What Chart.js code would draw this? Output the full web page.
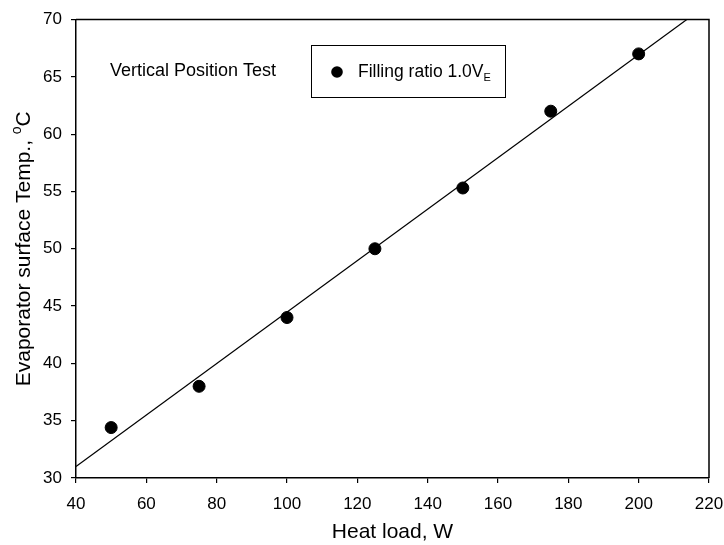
<!DOCTYPE html>
<html>
<head>
<meta charset="utf-8">
<script src="https://cdn.jsdelivr.net/npm/chart.js@4"></script>
<style>
  html, body { margin: 0; padding: 0; background: #fff; }
  #wrap { width: 724px; height: 545px; }
</style>
</head>
<body>
<div id="wrap"><canvas id="chart" width="724" height="545"></canvas></div>
<script>
// measured points
const heatLoad = [50, 75, 100, 125, 150, 175, 200];
const evapTemp = [34.4, 38.0, 44.0, 50.0, 55.3, 62.0, 67.0];

// fitted line, end points
const fitX = [40, 213.7];
const fitY = [31.0, 70.0];

const xTicks = [40, 60, 80, 100, 120, 140, 160, 180, 200, 220];
const yTicks = [30, 35, 40, 45, 50, 55, 60, 65, 70];

const FONT = '"Liberation Sans", Arial, sans-serif';

// frame, axis titles, note and legend box
const extras = {
    id: 'extras',
    afterDraw(chart) {
        const ctx = chart.ctx;
        const a = chart.chartArea;
        ctx.save();
        ctx.strokeStyle = '#000';
        ctx.lineWidth = 1.5;
        ctx.beginPath();
        ctx.moveTo(a.left, a.top);
        ctx.lineTo(a.right, a.top);
        ctx.lineTo(a.right, a.bottom);
        ctx.stroke();

        ctx.fillStyle = '#000';
        ctx.textBaseline = 'alphabetic';
        // x title
        ctx.font = '21px ' + FONT;
        ctx.textAlign = 'center';
        ctx.fillText('Heat load, W', (a.left + a.right) / 2, 538);

        // y title with superscript o
        const main = 'Evaporator surface Temp., ';
        ctx.font = '21px ' + FONT;
        const w1 = ctx.measureText(main).width;
        const wC = ctx.measureText('C').width;
        ctx.font = '14px ' + FONT;
        const wo = ctx.measureText('o').width;
        const total = w1 + wo + wC;
        ctx.translate(30, (a.top + a.bottom) / 2);
        ctx.rotate(-Math.PI / 2);
        ctx.textAlign = 'left';
        let x0 = -total / 2;
        ctx.font = '21px ' + FONT;
        ctx.fillText(main, x0, 0);
        ctx.font = '14px ' + FONT;
        ctx.fillText('o', x0 + w1, -9);
        ctx.font = '21px ' + FONT;
        ctx.fillText('C', x0 + w1 + wo, 0);
        ctx.setTransform(1, 0, 0, 1, 0, 0);

        // note
        ctx.font = '18px ' + FONT;
        ctx.textAlign = 'left';
        ctx.fillText('Vertical Position Test', 110, 76);

        // legend
        ctx.lineWidth = 1;
        ctx.strokeRect(311.5, 45.5, 194, 52);
        ctx.beginPath();
        ctx.arc(337, 72, 5.8, 0, Math.PI * 2);
        ctx.fill();
        ctx.font = '17.5px ' + FONT;
        const lt = 'Filling ratio 1.0V';
        ctx.fillText(lt, 358, 77);
        const lw = ctx.measureText(lt).width;
        ctx.font = '11px ' + FONT;
        ctx.fillText('E', 358 + lw, 81);
        ctx.restore();
    }
};

new Chart(document.getElementById('chart'), {
    type: 'scatter',
    data: {
        datasets: [
            {
                label: 'Filling ratio 1.0VE',
                data: heatLoad.map((x, i) => ({ x: x, y: evapTemp[i] })),
                backgroundColor: '#000',
                borderColor: '#000',
                pointRadius: 6,
                pointHoverRadius: 6
            },
            {
                type: 'line',
                label: 'fit',
                data: fitX.map((x, i) => ({ x: x, y: fitY[i] })),
                borderColor: '#000',
                borderWidth: 1.2,
                pointRadius: 0,
                fill: false
            }
        ]
    },
    options: {
        responsive: false,
        animation: false,
        layout: { padding: { top: 19.5, right: 15, left: 0, bottom: 0 } },
        plugins: { legend: { display: false }, tooltip: { enabled: false } },
        scales: {
            x: {
                type: 'linear',
                min: 40, max: 220,
                afterBuildTicks: s => { s.ticks = xTicks.map(v => ({ value: v })); },
                afterFit: s => { s.height = 67; s.paddingLeft = 0; s.paddingRight = 0; },
                ticks: { color: '#000', font: { family: FONT, size: 17 }, padding: 11 },
                grid: { drawOnChartArea: false, drawTicks: true, tickLength: 5, color: '#000', lineWidth: 1.2 },
                border: { display: true, color: '#000', width: 1.5 }
            },
            y: {
                type: 'linear',
                min: 30, max: 70,
                afterBuildTicks: s => { s.ticks = yTicks.map(v => ({ value: v })); },
                afterFit: s => { s.width = 76; s.paddingTop = 0; s.paddingBottom = 0; },
                ticks: { color: '#000', font: { family: FONT, size: 17 }, padding: 9 },
                grid: { drawOnChartArea: false, drawTicks: true, tickLength: 5, color: '#000', lineWidth: 1.2 },
                border: { display: true, color: '#000', width: 1.5 }
            }
        }
    },
    plugins: [extras]
});
</script>
</body>
</html>
